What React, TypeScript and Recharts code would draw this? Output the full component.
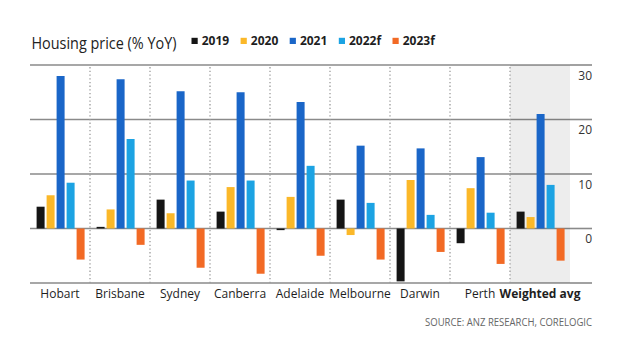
import React from 'react';
import { BarChart, Bar, XAxis, YAxis, CartesianGrid, ReferenceLine, ReferenceArea, Legend } from 'recharts';

const categories = ['Hobart', 'Brisbane', 'Sydney', 'Canberra', 'Adelaide', 'Melbourne', 'Darwin', 'Perth', 'Weighted avg'];
const y2019 = [4.0, 0.3, 5.3, 3.1, -0.3, 5.3, -9.7, -2.7, 3.1];
const y2020 = [6.1, 3.5, 2.8, 7.6, 5.8, -1.2, 8.9, 7.4, 2.1];
const y2021 = [28.0, 27.4, 25.2, 25.0, 23.2, 15.2, 14.7, 13.1, 21.0];
const y2022f = [8.4, 16.4, 8.8, 8.8, 11.5, 4.7, 2.5, 2.9, 8.0];
const y2023f = [-5.7, -3.0, -7.2, -8.3, -5.0, -5.7, -4.3, -6.5, -5.9];

const seriesKeys = ['s2019', 's2020', 's2021', 's2022f', 's2023f'];
const seriesNames = ['2019', '2020', '2021', '2022f', '2023f'];
const seriesColors = ['#151515', '#fbb829', '#1a66c8', '#1ca3e3', '#f26a25'];
const yTicks = [-10, 0, 10, 20, 30];
const highlighted = 'Weighted avg';
const titleText = 'Housing price (% YoY)';
const sourceText = 'SOURCE: ANZ RESEARCH, CORELOGIC';

const data = categories.map((name, i) => ({
  name,
  s2019: y2019[i],
  s2020: y2020[i],
  s2021: y2021[i],
  s2022f: y2022f[i],
  s2023f: y2023f[i],
}));

const GRID = '#8a8a8a';
const FONT = "'Open Sans', 'Noto Sans', sans-serif";

const RightTick = (props: any) => {
  const { x, y, payload } = props;
  return (
    <g>
      <line x1={x} x2={x + 22} y1={y} y2={y} stroke={GRID} strokeWidth={1.6} />
      {payload.value !== -10 && (
        <text x={x + 22} y={y + 14.5} textAnchor="end" fontSize={12} fontFamily={FONT} fill="#333">
          {payload.value}
        </text>
      )}
    </g>
  );
};

const BottomTick = (props: any) => {
  const { x, y, payload } = props;
  const bold = payload.value === highlighted;
  return (
    <text
      x={x}
      y={y + 14.5}
      textAnchor="middle"
      fontSize={12}
      fontFamily={FONT}
      fontWeight={bold ? 700 : 400}
      fill="#1e1e1e"
    >
      {payload.value}
    </text>
  );
};

const charW = (s: string) =>
  s.split('').reduce((acc, ch) => acc + (ch === 'f' ? 4.6 : 6.9), 0);

const renderLegend = (props: any) => {
  const payload = props.payload || [];
  let cx = 191.5;
  const items = payload.map((p: any, i: number) => {
    const label = String(p.value);
    const sx = cx;
    const w = charW(label);
    cx = sx + 10.5 + w + 11;
    return (
      <g key={i}>
        <rect x={sx} y={37.8} width={6.2} height={6.2} fill={p.color} />
        <text x={sx + 10.2} y={45.2} fontSize={12} fontWeight={700} fontFamily={FONT} fill="#1e1e1e">
          {label}
        </text>
      </g>
    );
  });
  return (
    <svg width={624} height={60} style={{ display: 'block' }}>
      <text
        x={31.5}
        y={48.5}
        fontSize={16.5}
        fontFamily={FONT}
        fill="#222"
        textLength={145}
        lengthAdjust="spacingAndGlyphs"
      >
        {titleText}
      </text>
      {items}
    </svg>
  );
};

export default function App() {
  return (
    <div style={{ position: 'absolute', left: 0, top: 0, width: 624, height: 338, background: '#fff' }}>
      <BarChart
        width={624}
        height={338}
        data={data}
        margin={{ top: 65, right: 0, bottom: 0, left: 30 }}
        barCategoryGap="11%"
        barGap={2}
      >
        <CartesianGrid horizontal vertical={false} stroke={GRID} strokeWidth={1.6} />
        <ReferenceArea
          x1={highlighted}
          x2={highlighted}
          fill="#000"
          fillOpacity={0.07}
          stroke="none"
          ifOverflow="visible"
        />
        {categories.slice(1).map((c) => (
          <ReferenceLine
            key={c}
            x={c}
            position="start"
            stroke="#9a9a9a"
            strokeWidth={1.3}
            strokeDasharray="1.3 2.4"
          />
        ))}
        <XAxis
          dataKey="name"
          axisLine={false}
          tickLine={false}
          tickSize={0}
          tickMargin={0}
          interval={0}
          height={55}
          tick={<BottomTick />}
        />
        <YAxis
          orientation="right"
          domain={[-10, 30]}
          ticks={yTicks}
          interval={0}
          axisLine={false}
          tickLine={false}
          tickSize={0}
          tickMargin={0}
          width={54}
          tick={<RightTick />}
        />
        <Legend
          layout="horizontal"
          verticalAlign="middle"
          align="center"
          wrapperStyle={{ top: 0, left: 0, width: 624, height: 60 }}
          content={renderLegend}
        />
        {seriesKeys.map((k, i) => (
          <Bar key={k} dataKey={k} name={seriesNames[i]} fill={seriesColors[i]} isAnimationActive={false} />
        ))}
      </BarChart>
      <svg width={624} height={338} style={{ position: 'absolute', left: 0, top: 0, pointerEvents: 'none' }}>
        <g transform="translate(592 325.5) scale(0.83 1)">
          <text x={0} y={0} textAnchor="end" fontSize={11.5} fontFamily={FONT} fill="#666">
            {sourceText}
          </text>
        </g>
      </svg>
    </div>
  );
}
